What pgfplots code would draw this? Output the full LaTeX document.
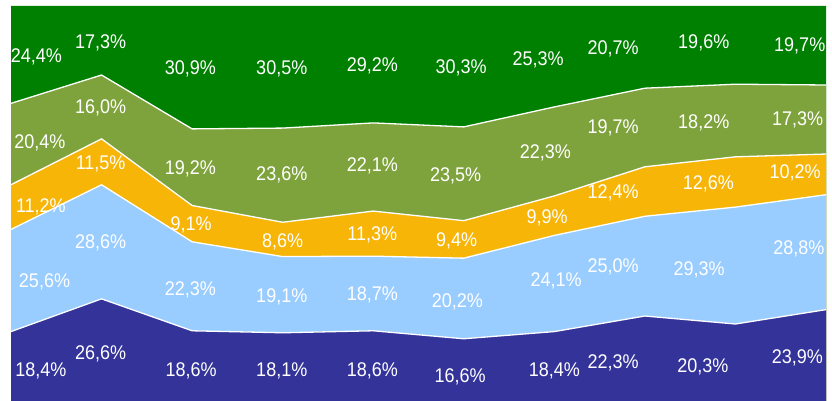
\documentclass[border=0pt]{standalone}
\usepackage{pgfplots}
\pgfplotsset{compat=1.18}
\usepackage{pgfplotstable}
\usepackage{fontspec}
\setmainfont{Liberation Sans}
\definecolor{cdb}{RGB}{51,51,153}
\definecolor{clb}{RGB}{153,204,255}
\definecolor{cor}{RGB}{247,181,8}
\definecolor{col}{RGB}{127,163,60}
\definecolor{cgr}{RGB}{0,128,0}

% cumulative boundaries of the stacked shares
\pgfplotstableread{
x c1 c2 c3 c4 c5
0 18.4 44.0 55.2 75.6 100
1 26.6 55.2 66.7 82.7 100
2 18.6 40.9 50.0 69.2 100
3 18.1 37.2 45.8 69.4 100
4 18.6 37.3 48.6 70.7 100
5 16.6 36.8 46.2 69.7 100
6 18.4 42.5 52.4 74.7 100
7 22.3 47.3 59.7 79.4 100
8 20.3 49.6 62.2 80.4 100
9 23.9 52.7 62.9 80.2 100
}\cum

% label positions (as placed in the reference)
\pgfplotstableread{
x y lab
0.33 8.9 18,4
0.99 13.2 26,6
1.99 8.77 18,6
2.99 8.77 18,1
3.99 8.77 18,6
4.96 7.27 16,6
6.0 9.0 18,4
6.65 10.8 22,3
7.64 9.8 20,3
8.685 12.15 23,9
0.37 31.25 25,6
0.99 40.9 28,6
1.98 29.3 22,3
2.99 27.4 19,1
3.99 28.0 18,7
4.93 26.2 20,2
6.02 31.4 24,1
6.65 35.0 25,0
7.6 34.2 29,3
8.70 39.5 28,8
0.33 49.95 11,2
0.99 60.65 11,5
1.99 45.4 9,1
3.0 41.3 8,6
3.99 42.9 11,3
4.92 41.35 9,4
5.92 47.2 9,9
6.65 53.4 12,4
7.7 55.8 12,6
8.66 58.5 10,2
0.32 66.0 20,4
0.99 74.8 16,0
1.98 59.4 19,2
2.99 58.0 23,6
3.99 60.15 22,1
4.91 57.7 23,5
5.9 63.5 22,3
6.65 69.8 19,7
7.65 71.05 18,2
8.687 71.9 17,3
0.28 87.7 24,4
0.99 91.1 17,3
1.98 84.5 30,9
2.99 84.5 30,5
3.99 85.3 29,2
4.97 84.7 30,3
5.82 86.8 25,3
6.65 89.6 20,7
7.65 91.0 19,6
8.71 90.3 19,7
}\labs

\begin{document}
\begin{tikzpicture}
\useasboundingbox (-11pt,4pt) rectangle (821pt,405pt);
\begin{axis}[
  scale only axis,
  width=815pt, height=399pt,
  xmin=0, xmax=9, ymin=0, ymax=100,
  hide axis,
]
\addplot[fill=cgr, draw=none] table[x=x, y=c5]{\cum} \closedcycle;
\addplot[fill=col, draw=none] table[x=x, y=c4]{\cum} \closedcycle;
\addplot[fill=cor, draw=none] table[x=x, y=c3]{\cum} \closedcycle;
\addplot[fill=clb, draw=none] table[x=x, y=c2]{\cum} \closedcycle;
\addplot[fill=cdb, draw=none] table[x=x, y=c1]{\cum} \closedcycle;
\addplot[white, line width=1.3pt, mark=none] table[x=x, y=c1]{\cum};
\addplot[white, line width=1.3pt, mark=none] table[x=x, y=c2]{\cum};
\addplot[white, line width=1.3pt, mark=none] table[x=x, y=c3]{\cum};
\addplot[white, line width=1.3pt, mark=none] table[x=x, y=c4]{\cum};
\addplot[draw=none, mark=none,
  point meta=explicit symbolic,
  nodes near coords={\scalebox{1}[1.1]{\pgfplotspointmeta\%}},
  nodes near coords style={anchor=center, text=white, inner sep=0pt,
    text height=0.79em, text depth=0pt, yshift=-3pt,
    font=\fontsize{18pt}{18pt}\selectfont},
] table[x=x, y=y, meta=lab]{\labs};
\end{axis}
\end{tikzpicture}
\end{document}
